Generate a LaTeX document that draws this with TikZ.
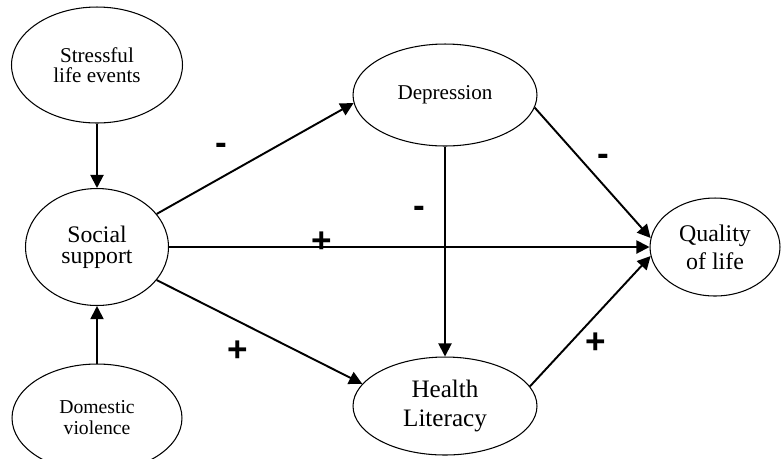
\documentclass[tikz,border=0pt]{standalone}
\usepackage{fontspec}
\setmainfont{Liberation Serif}
\setsansfont{Liberation Sans}
\usetikzlibrary{shapes.geometric, arrows.meta}
\tikzset{
  latent/.style={
    draw, ellipse, line width=0.6pt, inner sep=0pt,
    align=center, font=\fontsize{12}{11.5}\selectfont
  },
  effect/.style={-{Triangle[length=7.5pt,width=7.5pt]}, line width=1.1pt},
  sign/.style={font=\sffamily\bfseries\fontsize{20}{20}\selectfont, inner sep=0pt},
}

\begin{document}
\begin{tikzpicture}[x=0.02cm, y=-0.02cm]
  \useasboundingbox (0,0) rectangle (783,458);

  \node[latent, minimum width=3.42cm, minimum height=2.32cm] (sle) at (97,65)
    {Stressful\\ life events};
  \node[latent, minimum width=2.86cm, minimum height=2.34cm,
        font=\fontsize{13.5}{12}\selectfont] (soc) at (97,247) {Social\\ support};
  \node[latent, minimum width=3.4cm, minimum height=2.16cm,
        font=\fontsize{11.2}{12}\selectfont] (dv) at (97,418) {Domestic\\ violence};

  \node[latent, minimum width=3.68cm, minimum height=2.04cm] (dep) at (445,95)
    {Depression};
  \node[latent, minimum width=3.68cm, minimum height=1.96cm,
        font=\fontsize{14.3}{16.4}\selectfont] (hl) at (445,406) {Health\\ Literacy};

  \node[latent, minimum width=2.6cm, minimum height=1.96cm,
        font=\fontsize{13.6}{16}\selectfont] (qol) at (715,247) {Quality\\ of life};

  \draw[effect] (sle) -- (soc);
  \draw[effect] (dv) -- (soc);
  \draw[effect] (soc.29) -- (dep.185);
  \draw[effect] (soc.-29) -- (hl.165);
  \draw[effect] (soc) -- (qol);
  \draw[effect] (dep.-8) -- (qol.172);
  \draw[effect] (dep) -- (hl);
  \draw[effect] (hl.13) -- (qol.188);

  % signs of the paths
  \node[sign] (s1) at (221,149) {-};
  \node[sign] (s2) at (322,242) {+};
  \node[sign] (s3) at (238,351) {+};
  \node[sign] (s4) at (419,212) {-};
  \node[sign] (s5) at (603,160) {-};
  \node[sign] (s6) at (596,343) {+};
\end{tikzpicture}
\end{document}
